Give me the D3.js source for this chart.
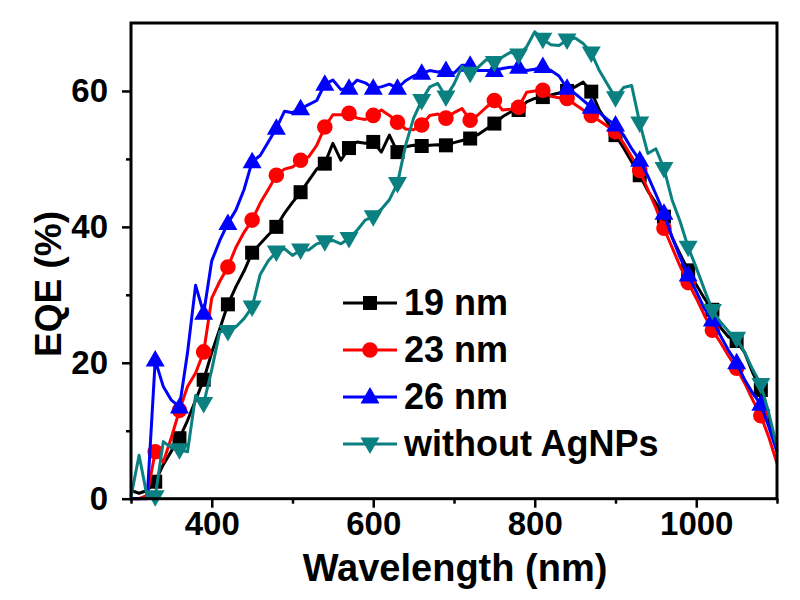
<!DOCTYPE html>
<html><head><meta charset="utf-8">
<script src="https://cdn.jsdelivr.net/npm/d3@7"></script>
<style>body{margin:0;background:#fff}svg{display:block}text{font-family:"Liberation Sans",Arial,sans-serif;font-weight:bold}</style>
</head><body><svg id="c" width="800" height="600"></svg>
<script>
const wavelengths = d3.range(300, 1101, 10);
const seriesNames = ["19 nm", "23 nm", "26 nm", "without AgNPs"];
const seriesColors = ["#000000", "#ff0000", "#0000ff", "#0a8080"];
const seriesShapes = ["square", "circle", "triangleUp", "triangleDown"];
const eqe19 = [1.2,0.8,1.2,2.5,5.0,7.0,8.9,11.5,14.5,17.5,21.5,25.0,28.6,31.2,33.5,36.2,37.5,38.8,40.0,42.0,43.6,45.1,46.8,48.5,49.3,52.3,49.8,51.6,52.5,52.3,52.5,51.0,53.5,51.0,51.8,52.0,51.9,52.0,52.1,52.0,52.4,52.7,53.0,53.6,54.4,55.2,56.2,56.9,57.2,58.4,58.9,59.1,59.4,59.7,60.0,60.6,61.3,59.9,57.2,55.4,53.5,51.6,49.6,47.6,45.3,43.5,41.5,38.5,36.0,33.6,31.5,29.5,27.8,25.2,23.8,23.2,21.5,18.5,16.0,11.5,7.0];
const eqe23 = [0,0,0.5,6.9,5.4,9.0,13.0,16.5,18.5,21.6,29.5,32.0,34.1,37.0,39.2,41.0,43.5,45.5,47.6,48.5,48.8,49.8,50.3,52.0,54.7,56.5,56.5,56.7,56.0,55.8,56.4,57.2,56.4,55.4,54.4,54.3,55.0,56.4,56.6,56.0,56.8,57.4,55.7,56.5,57.6,58.6,57.2,57.3,57.6,59.8,60.0,60.1,59.2,59.0,58.9,58.0,57.2,56.4,55.6,54.8,54.0,52.3,50.3,48.3,45.5,42.8,39.8,37.0,34.2,31.8,29.5,27.0,24.8,23.0,21.0,19.2,17.0,14.5,12.2,9.0,5.2];
const eqe26 = [0,0,0,20.4,16.5,14.5,13.5,21.5,31.4,27.3,35.0,38.0,40.5,42.5,45.5,49.6,50.5,52.5,54.5,57.0,56.8,57.4,58.0,58.6,61.0,61.6,60.2,60.4,61.6,61.2,60.4,60.6,61.0,60.4,61.5,62.2,62.6,63.0,62.8,63.0,62.6,63.8,63.8,63.0,63.0,63.0,63.3,63.5,63.5,63.0,63.2,63.6,63.0,62.2,60.4,59.6,58.6,57.6,56.8,55.8,55.0,53.5,51.5,49.8,47.5,44.8,42.0,38.5,35.5,32.9,30.5,28.0,26.3,24.0,21.8,20.0,17.5,15.5,13.9,10.5,6.9];
const eqeNone = [0.3,6.4,0.3,0.3,8.4,7.5,7.2,6.9,15.2,14.0,19.0,24.6,24.6,25.3,26.5,28.2,33.0,35.0,36.3,36.8,35.8,36.6,36.6,37.5,37.8,38.0,37.5,38.3,39.5,41.0,41.5,42.6,44.0,46.4,52.0,56.0,58.6,60.6,61.1,59.1,61.0,63.6,62.6,63.5,64.6,64.2,65.0,65.7,65.3,66.5,68.7,67.6,66.8,66.7,67.5,67.8,67.0,65.6,63.0,61.0,59.0,60.5,60.8,55.3,50.8,51.5,48.6,44.0,40.8,37.0,34.0,30.8,27.7,26.0,24.6,23.6,21.5,19.0,16.8,12.5,7.6];
const seriesValues = [eqe19, eqe23, eqe26, eqeNone];
const xMajorTicks = [400, 600, 800, 1000];
const xMinorTicks = [300, 500, 700, 900, 1100];
const yMajorTicks = [0, 20, 40, 60];
const yMinorTicks = [10, 30, 50];
const xTitle = "Wavelength (nm)";
const yTitle = "EQE (%)";

const svg = d3.select("#c");
const L = 131, R = 777, T = 23, B = 498.7;
const x = d3.scaleLinear().domain([300, 1100]).range([L, R]);
const y = d3.scaleLinear().domain([0, 70]).range([B, T]);

function shapePath(shape) {
  if (shape === "square") return "M-7,-7H7V7H-7Z";
  if (shape === "circle") return d3.symbol(d3.symbolCircle, Math.PI * 7.8 * 7.8)();
  if (shape === "triangleUp") return "M0,-10L9.5,6.5L-9.5,6.5Z";
  return "M0,10L9.5,-6.5L-9.5,-6.5Z";
}

const line = d3.line().x((d, i) => x(wavelengths[i])).y(d => y(d));
const gData = svg.append("g");
seriesValues.forEach((vals, s) => {
  const g = gData.append("g");
  g.append("path").attr("d", line(vals)).attr("fill", "none")
    .attr("stroke", seriesColors[s]).attr("stroke-width", 3).attr("stroke-linejoin", "round");
  g.selectAll("path.m").data(vals.map((v, i) => [wavelengths[i], v]).filter(d => d[0] >= 330 && d[0] <= 1080 && (d[0] - 330) % 30 === 0))
    .enter().append("path").attr("class", "m")
    .attr("d", shapePath(seriesShapes[s]))
    .attr("transform", d => `translate(${x(d[0])},${y(d[1])})`)
    .attr("fill", seriesColors[s]);
});

// frame
svg.append("rect").attr("x", L).attr("y", T).attr("width", R - L).attr("height", B - T)
  .attr("fill", "none").attr("stroke", "#000").attr("stroke-width", 3);

// x axis
const xAxis = d3.axisBottom(x).tickValues(xMajorTicks).tickSize(9).tickPadding(4).tickFormat(d3.format("d"));
const gx = svg.append("g").attr("transform", `translate(0,${B})`).call(xAxis);
gx.select(".domain").remove();
gx.selectAll(".tick line").attr("stroke-width", 2.5);
gx.selectAll("text").attr("font-size", 33).attr("fill", "#000");
const xMinor = d3.axisBottom(x).tickValues(xMinorTicks).tickSize(5).tickFormat("");
const gxm = svg.append("g").attr("transform", `translate(0,${B})`).call(xMinor);
gxm.select(".domain").remove();
gxm.selectAll(".tick line").attr("stroke-width", 2.5);

// y axis
const yAxis = d3.axisLeft(y).tickValues(yMajorTicks).tickSize(9).tickPadding(14).tickFormat(d3.format("d"));
const gy = svg.append("g").attr("transform", `translate(${L},0)`).call(yAxis);
gy.select(".domain").remove();
gy.selectAll(".tick line").attr("stroke-width", 2.5);
gy.selectAll("text").attr("font-size", 33).attr("fill", "#000");
const yMinor = d3.axisLeft(y).tickValues(yMinorTicks).tickSize(5).tickFormat("");
const gym = svg.append("g").attr("transform", `translate(${L},0)`).call(yMinor);
gym.select(".domain").remove();
gym.selectAll(".tick line").attr("stroke-width", 2.5);

// titles
svg.append("text").attr("x", 455).attr("y", 581).attr("text-anchor", "middle")
  .attr("font-size", 38).text(xTitle);
svg.append("text").attr("transform", "translate(61,284) rotate(-90)").attr("text-anchor", "middle")
  .attr("font-size", 37).text(yTitle);

// legend
const lg = svg.append("g");
seriesNames.forEach((name, s) => {
  const yy = 303 + s * 47;
  lg.append("line").attr("x1", 343).attr("x2", 397).attr("y1", yy).attr("y2", yy)
    .attr("stroke", seriesColors[s]).attr("stroke-width", 3);
  lg.append("path").attr("d", shapePath(seriesShapes[s])).attr("transform", `translate(370,${yy})`)
    .attr("fill", seriesColors[s]);
  lg.append("text").attr("x", 404).attr("y", yy + 12).attr("font-size", 36).attr("fill", "#000").text(name);
});
</script></body></html>
